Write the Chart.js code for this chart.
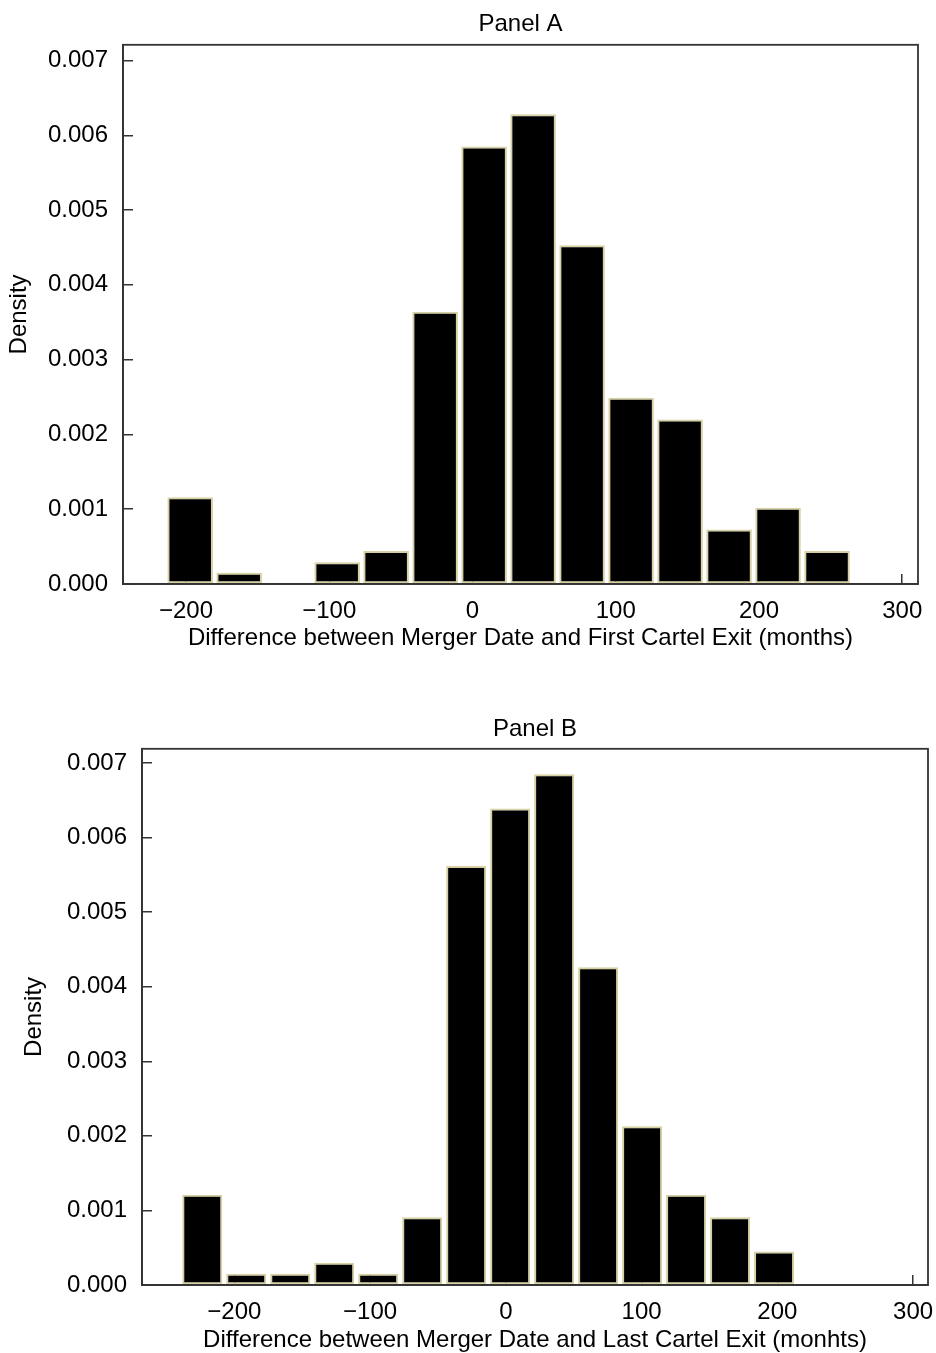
<!DOCTYPE html>
<html>
<head>
<meta charset="utf-8">
<script src="https://cdn.jsdelivr.net/npm/chart.js@4.4.1/dist/chart.umd.min.js"></script>
<style>
  html, body { margin: 0; padding: 0; background: #fff; overflow: hidden; }
  canvas { position: absolute; left: 0; }
  #chartA { top: 0; }
  #chartB { top: 676px; }
</style>
</head>
<body>
<canvas id="chartA" width="936" height="676"></canvas>
<canvas id="chartB" width="936" height="677"></canvas>
<script>
// Panel A: first cartel exit (bin centres, months)
const binsA = [-197.1, -162.9, -128.7, -94.5, -60.3, -26.1, 8.1, 42.3, 76.5, 110.7, 144.9, 179.1, 213.3, 247.5];
const densA = [0.00116, 0.00015, null, 0.00029, 0.00044, 0.00364, 0.00585, 0.00628, 0.00453, 0.00249, 0.00220, 0.00073, 0.00102, 0.00044];

// Panel B: last cartel exit
const binsB = [-223.6, -191.2, -158.8, -126.4, -94.0, -61.6, -29.2, 3.2, 35.6, 68.0, 100.4, 132.8, 165.2, 197.6];
const densB = [0.00121, 0.00015, 0.00015, 0.00030, 0.00015, 0.00091, 0.00562, 0.00639, 0.00685, 0.00426, 0.00213, 0.00121, 0.00091, 0.00045];

const yTicks = [0, 0.001, 0.002, 0.003, 0.004, 0.005, 0.006, 0.007];
const xTicks = [-200, -100, 0, 100, 200, 300];

Chart.defaults.font.family = '"Liberation Sans", Arial, sans-serif';
Chart.defaults.font.size = 24;
Chart.defaults.color = '#000';

const AXIS = '#333';
const EDGE = '#d6d0a2';

// box round the plot area
const frame = {
  id: 'frame',
  afterDatasetsDraw(chart) {
    const { ctx, chartArea: a } = chart;
    ctx.save();
    ctx.strokeStyle = AXIS;
    ctx.lineWidth = 1.8;
    ctx.strokeRect(a.left, a.top, a.right - a.left, a.bottom - a.top);
    ctx.restore();
  }
};

function makePanel(id, o) {
  const points = o.bins.map((b, i) => ({ x: b, y: o.dens[i] }));
  return new Chart(document.getElementById(id), {
    type: 'bar',
    data: {
      datasets: [{
        data: points,
        backgroundColor: '#000',
        borderColor: EDGE,
        borderWidth: 2,
        borderSkipped: false,
        barPercentage: o.barPct,
        categoryPercentage: 1
      }]
    },
    options: {
      responsive: false,
      animation: false,
      layout: { padding: { left: 0, right: o.padRight, top: 0, bottom: 0 } },
      plugins: {
        legend: { display: false },
        tooltip: { enabled: false },
        title: {
          display: true,
          fullSize: false,
          text: o.title,
          font: { size: 24, weight: 'normal' },
          color: '#000',
          padding: o.titlePad
        }
      },
      scales: {
        x: {
          type: 'linear',
          offset: false,
          min: o.xMin,
          max: o.xMax,
          afterFit: s => {
            s.height = o.xHeight;
            s.paddingLeft = 0;
            s.paddingRight = 0;
          },
          afterBuildTicks: s => { s.ticks = xTicks.map(v => ({ value: v })); },
          ticks: {
            padding: 23,
            maxRotation: 0,
            callback: v => v < 0 ? '\u2212' + Math.abs(v) : String(v)
          },
          grid: { offset: false, drawOnChartArea: false, drawTicks: true, tickLength: -10, color: AXIS, lineWidth: 1.5 },
          border: { display: true, color: AXIS, width: 1.8 },
          title: { display: true, text: o.xTitle, padding: { top: 0, bottom: o.xTitlePad } }
        },
        y: {
          min: 0,
          max: o.yMax,
          afterFit: s => {
            s.width = o.yWidth;
            s.paddingTop = 0;
            s.paddingBottom = 0;
          },
          afterBuildTicks: s => { s.ticks = yTicks.map(v => ({ value: v })); },
          ticks: {
            padding: 25,
            callback: v => v.toFixed(3)
          },
          grid: { drawOnChartArea: false, drawTicks: true, tickLength: -10, color: AXIS, lineWidth: 1.5 },
          border: { display: true, color: AXIS, width: 1.8 },
          title: { display: true, text: 'Density', padding: { top: o.yTitlePad, bottom: 0 } }
        }
      }
    },
    plugins: [frame]
  });
}

makePanel('chartA', {
  title: 'Panel A',
  bins: binsA,
  dens: densA,
  barPct: 0.93,
  xMin: -244,
  xMax: 311,
  yMax: 0.00721,
  padRight: 18,
  titlePad: { top: 10, bottom: 6 },
  xHeight: 92,
  yWidth: 123,
  xTitle: 'Difference between Merger Date and First Cartel Exit (months)',
  xTitlePad: 23,
  yTitlePad: 5
});

makePanel('chartB', {
  title: 'Panel B',
  bins: binsB,
  dens: densB,
  barPct: 0.91,
  xMin: -268,
  xMax: 311,
  yMax: 0.00719,
  padRight: 8,
  titlePad: { top: 39, bottom: 5 },
  xHeight: 68,
  yWidth: 142,
  xTitle: 'Difference between Merger Date and Last Cartel Exit (monhts)',
  xTitlePad: -2,
  yTitlePad: 20
});
</script>
</body>
</html>
